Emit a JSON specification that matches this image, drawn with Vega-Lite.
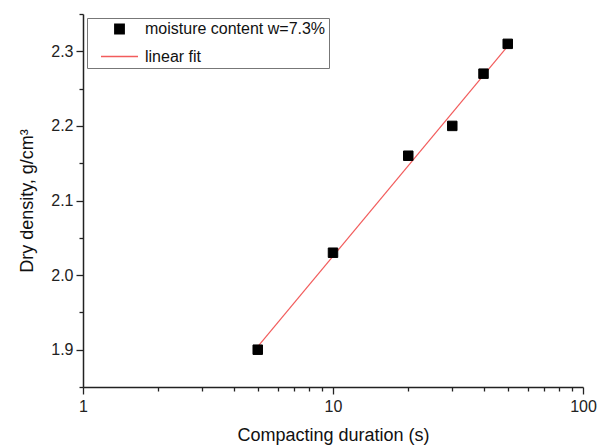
{
  "$schema": "https://vega.github.io/schema/vega-lite/v6.json",
  "description": "Dry density vs compacting duration",
  "width": 500,
  "height": 373,
  "autosize": {"type": "none"},
  "padding": {"left": 83, "top": 14, "right": 18, "bottom": 59},
  "background": "white",
  "config": {
    "font": "Liberation Sans",
    "view": {"stroke": null},
    "axis": {
      "domainColor": "#222",
      "domainWidth": 1.5,
      "tickColor": "#222",
      "tickWidth": 1.3,
      "grid": false,
      "labelFont": "Liberation Sans",
      "labelFontSize": 16,
      "labelColor": "#222",
      "titleFont": "Liberation Sans",
      "titleFontSize": 18,
      "titleFontWeight": "normal",
      "titleColor": "#111"
    },
    "legend": {
      "labelFont": "Liberation Sans",
      "labelFontSize": 16,
      "labelColor": "#111",
      "labelLimit": 400
    }
  },
  "layer": [
    {
      "data": {
        "values": [
          {"duration": 5, "fit": 1.904},
          {"duration": 50, "fit": 2.307}
        ]
      },
      "mark": {"type": "line", "color": "#f25c5c", "strokeWidth": 1.2},
      "encoding": {
        "x": {"field": "duration", "type": "quantitative"},
        "y": {"field": "fit", "type": "quantitative"}
      }
    },
    {
      "data": {
        "values": [
          {"duration": 5, "density": 1.90, "series": "moisture content w=7.3%"},
          {"duration": 10, "density": 2.03, "series": "moisture content w=7.3%"},
          {"duration": 20, "density": 2.16, "series": "moisture content w=7.3%"},
          {"duration": 30, "density": 2.20, "series": "moisture content w=7.3%"},
          {"duration": 40, "density": 2.27, "series": "moisture content w=7.3%"},
          {"duration": 50, "density": 2.31, "series": "moisture content w=7.3%"}
        ]
      },
      "mark": {"type": "point", "filled": true, "opacity": 1, "strokeWidth": 1},
      "encoding": {
        "x": {
          "field": "duration",
          "type": "quantitative",
          "title": "Compacting duration (s)",
          "scale": {"type": "log", "domain": [1, 100], "nice": false},
          "axis": {
            "values": [1, 2, 3, 4, 5, 6, 7, 8, 9, 10, 20, 30, 40, 50, 60, 70, 80, 90, 100],
            "tickCount": 30,
            "labelExpr": "datum.value == 1 || datum.value == 10 || datum.value == 100 ? format(datum.value, 'd') : ''",
            "tickSize": {"condition": {"test": "datum.value == 1 || datum.value == 10 || datum.value == 100", "value": 7}, "value": 4},
            "labelPadding": 4,
            "labelFlush": false,
            "labelOverlap": false,
            "titlePadding": 12
          }
        },
        "y": {
          "field": "density",
          "type": "quantitative",
          "title": "Dry density, g/cm³",
          "scale": {"domain": [1.85, 2.35], "nice": false, "zero": false},
          "axis": {
            "values": [1.85, 1.9, 1.95, 2.0, 2.05, 2.1, 2.15, 2.2, 2.25, 2.3, 2.35],
            "tickCount": 30,
            "labelExpr": "datum.value == 1.9 || datum.value == 2 || datum.value == 2.1 || datum.value == 2.2 || datum.value == 2.3 ? format(datum.value, '.1f') : ''",
            "tickSize": {"condition": {"test": "datum.value == 1.9 || datum.value == 2 || datum.value == 2.1 || datum.value == 2.2 || datum.value == 2.3", "value": 7}, "value": 4},
            "labelPadding": 3,
            "labelFlush": false,
            "labelOverlap": false,
            "titlePadding": 14
          }
        },
        "fill": {
          "field": "series",
          "type": "nominal",
          "scale": {"domain": ["moisture content w=7.3%", "linear fit"], "range": ["#000000", "#f25c5c"]},
          "legend": {
            "title": null,
            "orient": "top-left",
            "offset": 4,
            "padding": 3,
            "strokeColor": "#777",
            "fillColor": "white",
            "symbolStrokeWidth": 1.3,
            "symbolOffset": 10,
            "labelOffset": 6,
            "rowPadding": -6
          }
        },
        "stroke": {
          "field": "series",
          "type": "nominal",
          "scale": {"domain": ["moisture content w=7.3%", "linear fit"], "range": ["#000000", "#f25c5c"]}
        },
        "shape": {
          "field": "series",
          "type": "nominal",
          "scale": {"domain": ["moisture content w=7.3%", "linear fit"], "range": ["square", "stroke"]}
        },
        "size": {
          "field": "series",
          "type": "nominal",
          "scale": {"domain": ["moisture content w=7.3%", "linear fit"], "range": [90, 1369]}
        }
      }
    }
  ]
}
